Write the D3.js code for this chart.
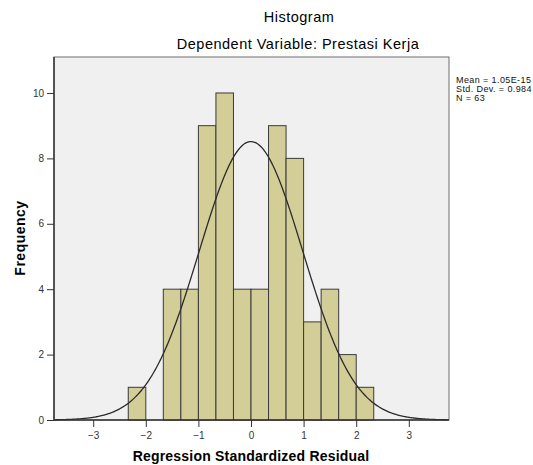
<!DOCTYPE html>
<html>
<head>
<meta charset="utf-8">
<script src="https://cdn.jsdelivr.net/npm/d3@7"></script>
<style>
  body { margin: 0; background: #fff; }
  text { font-family: "Liberation Sans", Arial, sans-serif; }
</style>
</head>
<body>
<svg id="canvas" width="533" height="465"></svg>
<script>
// histogram bins (lower edges, width 1/3) and counts
const binStarts = [-7, -6, -5, -4, -3, -2, -1, 0, 1, 2, 3, 4, 5, 6].map(d => d / 3);
const binWidth = 1 / 3;
const counts = [1, 0, 4, 4, 9, 10, 4, 4, 9, 8, 3, 4, 2, 1];
const xTicks = [-3, -2, -1, 0, 1, 2, 3];
const yTicks = [0, 2, 4, 6, 8, 10];
const statLines = ['Mean = 1.05E-15', 'Std. Dev. = 0.984', 'N = 63'];
const mean = 0, sd = 0.984, n = 63;

let svg = d3.select('#canvas');

const plotLeft = 54, plotRight = 449, plotTop = 57, plotBottom = 420;

let x = d3.scaleLinear().domain([-3.745, 3.764]).range([plotLeft, plotRight]);
let y = d3.scaleLinear().domain([0, 11.1]).range([plotBottom, plotTop]);

// plot background
svg.append('rect')
    .attr('x', plotLeft).attr('y', plotTop)
    .attr('width', plotRight - plotLeft).attr('height', plotBottom - plotTop)
    .attr('fill', '#f0f0f0')
    .attr('stroke', '#6e6e6e')
    .attr('stroke-width', 1);

// bars
svg.selectAll('rect.bar')
    .data(counts.map((c, i) => ({ x0: binStarts[i], c: c })).filter(d => d.c > 0))
    .enter()
    .append('rect')
    .attr('class', 'bar')
    .attr('x', d => x(d.x0))
    .attr('y', d => y(d.c))
    .attr('width', d => x(d.x0 + binWidth) - x(d.x0))
    .attr('height', d => y(0) - y(d.c))
    .attr('fill', '#d3ce97')
    .attr('stroke', '#3a3a3a')
    .attr('stroke-width', 1);

// normal curve from the stats shown
let pts = d3.range(-3.745, 3.765, 0.02).map(v => [v,
    n * binWidth * Math.exp(-0.5 * Math.pow((v - mean) / sd, 2)) / (sd * Math.sqrt(2 * Math.PI))]);
svg.append('path')
    .datum(pts)
    .attr('d', d3.line().x(d => x(d[0])).y(d => y(d[1])).curve(d3.curveBasis))
    .attr('fill', 'none')
    .attr('stroke', '#2b2b2b')
    .attr('stroke-width', 1.3);

// axes
let xAxis = svg.append('g')
    .attr('transform', `translate(0,${plotBottom})`)
    .call(d3.axisBottom(x).tickValues(xTicks).tickSize(7).tickSizeOuter(0).tickFormat(d3.format('d')));
let yAxis = svg.append('g')
    .attr('transform', `translate(${plotLeft},0)`)
    .call(d3.axisLeft(y).tickValues(yTicks).tickSize(7).tickSizeOuter(0));
[xAxis, yAxis].forEach(g => {
    g.select('.domain').remove();
    g.selectAll('line').attr('stroke', '#333');
    g.selectAll('text').attr('fill', '#333').style('font-size', '10px')
        .style('font-family', '"Liberation Sans", Arial, sans-serif');
});
xAxis.selectAll('text').attr('dy', '0.9em');
svg.append('line').attr('x1', plotLeft).attr('x2', plotLeft).attr('y1', plotTop).attr('y2', plotBottom)
    .attr('stroke', '#333').attr('stroke-width', 1.5);
svg.append('line').attr('x1', plotLeft).attr('x2', plotRight).attr('y1', plotBottom).attr('y2', plotBottom)
    .attr('stroke', '#333').attr('stroke-width', 1.5);

// titles
svg.append('text').attr('x', 299).attr('y', 22).attr('text-anchor', 'middle')
    .style('font-size', '14.5px').style('letter-spacing', '0.5px').text('Histogram');
svg.append('text').attr('x', 298).attr('y', 49).attr('text-anchor', 'middle')
    .style('font-size', '14.5px').style('letter-spacing', '0.5px').text('Dependent Variable: Prestasi Kerja');
svg.append('text').attr('x', 251).attr('y', 461).attr('text-anchor', 'middle')
    .style('font-size', '14px').style('font-weight', 'bold').style('letter-spacing', '0.2px')
    .text('Regression Standardized Residual');
svg.append('text').attr('transform', 'translate(25,238) rotate(-90)').attr('text-anchor', 'middle')
    .style('font-size', '14px').style('font-weight', 'bold').style('letter-spacing', '0.5px')
    .text('Frequency');

// stats box
svg.selectAll('text.stat')
    .data(statLines)
    .enter()
    .append('text')
    .attr('class', 'stat')
    .attr('x', 456)
    .attr('y', (d, i) => 83 + i * 9)
    .style('font-size', '9px')
    .style('letter-spacing', '0.4px')
    .attr('fill', '#111')
    .text(d => d);
</script>
</body>
</html>
